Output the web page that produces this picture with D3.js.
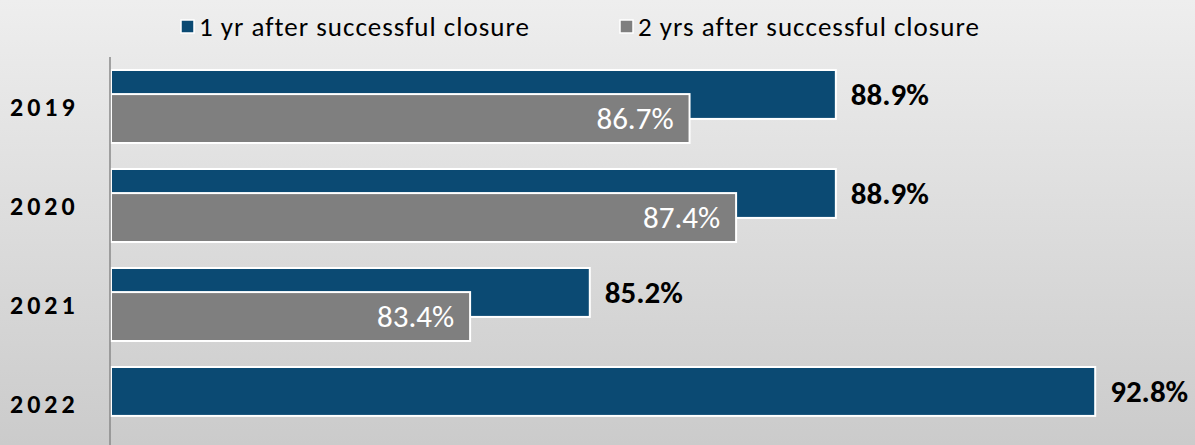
<!DOCTYPE html>
<html>
<head>
<meta charset="utf-8">
<script src="https://cdn.jsdelivr.net/npm/d3@7"></script>
<style>
  body { margin: 0; }
  svg { display: block; font-family: Calibri, Carlito, Lato, sans-serif; }
</style>
</head>
<body>
<svg></svg>
<script>
// data
var years = ["2019", "2020", "2021", "2022"];
var oneYear = [88.9, 88.9, 85.2, 92.8];
var twoYears = [86.7, 87.4, 83.4, null];
var seriesNames = ["1 yr after successful closure", "2 yrs after successful closure"];
var seriesColors = ["#0b4a73", "#7f7f7f"];

var svgWidth = 1195, svgHeight = 445;

var svg = d3.select("svg")
    .attr("width", svgWidth)
    .attr("height", svgHeight);

// background gradient
var grad = svg.append("defs").append("linearGradient")
    .attr("id", "bg")
    .attr("x1", 0).attr("y1", 0).attr("x2", 0).attr("y2", 1);
grad.append("stop").attr("offset", "0%").attr("stop-color", "#eeeeee");
grad.append("stop").attr("offset", "100%").attr("stop-color", "#cbcbcb");

svg.append("rect")
    .attr("width", svgWidth)
    .attr("height", svgHeight)
    .attr("fill", "url(#bg)");

var xScale = d3.scaleLinear()
    .domain([78, 95])
    .range([111, 111 + 17 * 66.5]);

var yScale = d3.scaleBand()
    .domain(years)
    .range([57, 453])
    .paddingInner(0.2626)
    .paddingOuter(0.1313);

var bw = yScale.bandwidth();
var barH = bw * 0.67;
var offsets = [0, bw - barH];

var rows = years.map(function(y, i) {
    return { year: y, vals: [oneYear[i], twoYears[i]] };
});

// bars: blue first, grey drawn over it
[0, 1].forEach(function(s) {
    var data = rows.filter(function(d) { return d.vals[s] != null; });

    svg.append("g").selectAll("rect")
        .data(data)
        .enter()
        .append("rect")
        .attr("x", xScale(78))
        .attr("y", function(d) { return yScale(d.year) + offsets[s]; })
        .attr("width", function(d) { return xScale(d.vals[s]) - xScale(78); })
        .attr("height", barH)
        .attr("fill", seriesColors[s])
        .attr("stroke", "#fff")
        .attr("stroke-width", 2);

    svg.append("g").selectAll("text")
        .data(data)
        .enter()
        .append("text")
        .text(function(d) { return d.vals[s].toFixed(1) + "%"; })
        .attr("x", function(d) {
            return s == 0 ? xScale(d.vals[s]) + 15 : xScale(d.vals[s]) - 16;
        })
        .attr("y", function(d) { return yScale(d.year) + offsets[s] + barH / 2; })
        .attr("dy", "0.35em")
        .attr("text-anchor", s == 0 ? "start" : "end")
        .attr("font-size", 31)
        .attr("font-weight", s == 0 ? "bold" : "normal")
        .attr("fill", s == 0 ? "#000" : "#fff");
});

// category axis
svg.append("line")
    .attr("x1", 110).attr("x2", 110)
    .attr("y1", 57).attr("y2", svgHeight)
    .attr("stroke", "#888")
    .attr("stroke-width", 1.5);

svg.append("g").selectAll("text")
    .data(years)
    .enter()
    .append("text")
    .text(function(d) { return d; })
    .attr("x", 10)
    .attr("y", function(d) { return yScale(d) + bw / 2; })
    .attr("dy", "0.35em")
    .attr("font-size", 26)
    .attr("font-weight", "bold")
    .attr("letter-spacing", 4)
    .attr("fill", "#000");

// legend
var legendX = [181, 620];
var legend = svg.append("g").selectAll("g")
    .data(seriesNames)
    .enter()
    .append("g")
    .attr("transform", function(d, i) { return "translate(" + legendX[i] + ",20)"; });

legend.append("rect")
    .attr("width", 13)
    .attr("height", 13)
    .attr("fill", function(d, i) { return seriesColors[i]; })
    .attr("stroke", "#fff")
    .attr("stroke-width", 1.5);

legend.append("text")
    .text(function(d) { return d; })
    .attr("x", 18)
    .attr("y", 7)
    .attr("dy", "0.35em")
    .attr("font-size", 27)
    .attr("letter-spacing", 1)
    .attr("fill", "#000");
</script>
</body>
</html>
